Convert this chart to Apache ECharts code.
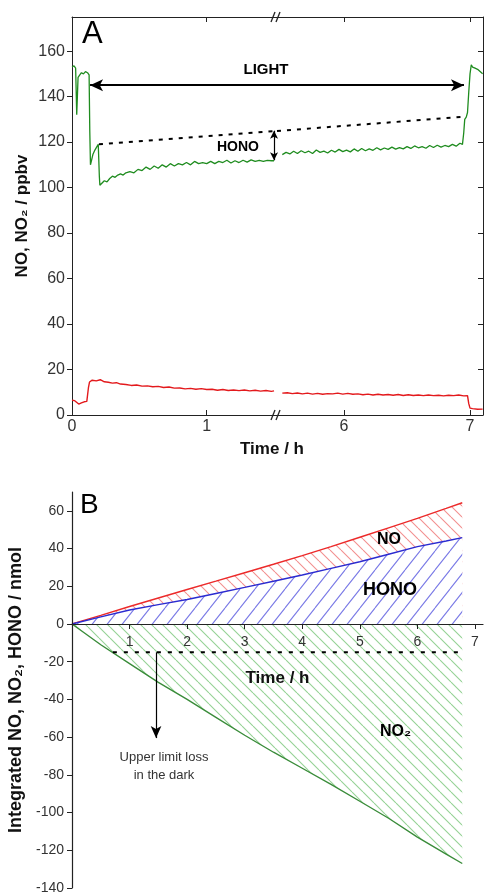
<!DOCTYPE html>
<html><head><meta charset="utf-8">
<script src="https://cdn.jsdelivr.net/npm/echarts@6/dist/echarts.min.js"></script>
<style>html,body{margin:0;padding:0;background:#fff}#c{width:485px;height:893px}</style>
</head><body><div id="c"></div><script>
// ---------- Panel A data (time in h, mixing ratio in ppbv) ----------
const A_no2_t1 = [0,0.015,0.027,0.03,0.035,0.04,0.045,0.055,0.07,0.085,0.1,0.115,0.127,0.132,0.137,0.145,0.155,0.17,0.185,0.195,0.2,0.203,0.207,0.22,0.24,0.26,0.28,0.3,0.32,0.34,0.36,0.38,0.4,0.43,0.46,0.49,0.52,0.55,0.58,0.61,0.64,0.67,0.7,0.73,0.76,0.79,0.82,0.85,0.88,0.91,0.94,0.97,1.0,1.03,1.06,1.09,1.12,1.15,1.18,1.21,1.24,1.27,1.3,1.33,1.36,1.39,1.42,1.45,1.48,1.5];
const A_no2_v1 = [153,153.5,152.5,145,132,140,148.5,149,150.5,150,151,150.5,149.5,125,110,112,114.5,116.5,118,119,119.2,105,101,101.5,103,102.5,104,105,104.5,105.5,106,105.5,106.5,107,106.5,108,107.5,109,108,109.5,108.5,110,109,110.5,109.5,110.5,110,111,110,111.5,110.5,111,110.5,111.5,110.5,111.5,111,112,110.8,111.8,111,112,111.2,112.2,111.5,112,111.5,112,111.8,111.8];
const A_no2_t2 = [5.51,5.54,5.57,5.6,5.63,5.66,5.69,5.72,5.75,5.78,5.81,5.84,5.87,5.9,5.93,5.96,5.99,6.02,6.05,6.08,6.11,6.14,6.17,6.2,6.23,6.26,6.29,6.32,6.35,6.38,6.41,6.44,6.47,6.5,6.53,6.56,6.59,6.62,6.65,6.68,6.71,6.74,6.77,6.8,6.83,6.86,6.89,6.92,6.94,6.95,6.958,6.97,6.98,6.99,7.0,7.01,7.02,7.04,7.06,7.08,7.1];
const A_no2_v2 = [114.5,115.5,114.8,116,115,116.2,115.3,116,115,116.5,115.5,116,115.2,116.4,115.6,116.8,115.8,116.5,115.7,117,116,117.2,116.2,117,116.4,117.5,116.6,117.4,116.8,117.8,116.9,117.6,117,118,117.2,118.3,117.5,118,117.3,118.5,117.6,118.6,117.8,118.5,118,119,118.2,119.5,119,124,130,131,133,142,150,154,153,152.5,152,151,150];
const A_no_t1 = [0,0.02,0.03,0.05,0.07,0.09,0.11,0.118,0.122,0.13,0.15,0.18,0.21,0.24,0.27,0.3,0.33,0.36,0.4,0.44,0.48,0.52,0.56,0.6,0.64,0.68,0.72,0.76,0.8,0.84,0.88,0.92,0.96,1.0,1.04,1.08,1.12,1.16,1.2,1.24,1.28,1.32,1.36,1.4,1.44,1.48,1.5];
const A_no_v1 = [6.5,6.3,5.5,4.8,5.3,5.8,6,6.2,12,14.5,15.3,15,15.5,14.6,14.4,14,14.2,13.6,13.4,13,13.2,12.7,12.8,12.4,12.6,12.1,12.3,11.8,11.9,11.5,11.7,11.3,11.6,11.2,11.3,10.9,11.2,10.8,11,10.7,11,10.6,10.9,10.5,10.8,10.4,10.6];
const A_no_t2 = [5.51,5.55,5.59,5.63,5.67,5.71,5.75,5.79,5.83,5.87,5.91,5.95,5.99,6.03,6.07,6.11,6.15,6.19,6.23,6.27,6.31,6.35,6.39,6.43,6.47,6.51,6.55,6.59,6.63,6.67,6.71,6.75,6.79,6.83,6.87,6.91,6.95,6.98,6.99,7.0,7.02,7.06,7.1];
const A_no_v2 = [9.6,9.8,9.4,9.7,9.3,9.6,9.2,9.5,9.1,9.4,9.3,9.6,9.2,9.5,9.1,9.3,8.9,9.2,8.8,9.1,8.8,9,8.7,9,8.6,8.9,8.6,8.8,8.5,8.8,8.5,8.7,8.4,8.7,8.5,8.8,8.4,8.5,5,3,2.8,2.5,2.6];
const A_dash_t1 = [0.2,1.522], A_dash_v1 = [119,124.9];
const A_dash_t2 = [5.468,6.945], A_dash_v2 = [124.9,131.1];
const A_light = [0.134,6.952,145];      // start, end, level
const A_hono = [1.5,112,125];           // time, low, high
const A_xLeft = [0,1], A_xRight = [6,7];

// ---------- Panel B data (time in h, integrated amount in nmol) ----------
const B_t     = [0,0.5,1,1.5,2,2.5,3,3.5,4,4.5,5,5.5,6,6.5,6.78];
const B_HONO  = [0,3.8,7.4,10.3,13,16.2,19.4,22.7,26,29.5,33,37,41,44,45.8];
const B_NOtop = [0,4.6,9.3,13.8,18.3,22.7,27.2,31.7,36.3,41,46,51,56,61.3,64.3];   // NO + HONO (upper red line)
const B_NO2   = [0,-11,-21,-31,-40,-49.5,-59,-68,-76.5,-85,-94,-103,-113,-122,-127];
const B_dash_t = [0.71,6.78], B_dash_v = [-15,-15];
const B_arrow = [1.46,-15,-60.5];
const B_xTicks = [1,2,3,4,5,6,7];
const B_yTicks = [-140,-120,-100,-80,-60,-40,-20,0,20,40,60];

const zip = (t, v) => t.map((x, i) => [x, v[i]]);
const FONT = "'Liberation Sans', Arial, sans-serif";

function hatch(color, w, h, dir, lw, bg) {
  const c = document.createElement('canvas'); c.width = w; c.height = h;
  const g = c.getContext('2d');
  if (bg) { g.fillStyle = bg; g.fillRect(0, 0, w, h); }
  g.strokeStyle = color; g.lineWidth = lw;
  g.beginPath();
  for (const k of [-w, 0, w]) {
    if (dir === 'back') { g.moveTo(k, 0); g.lineTo(k + w, h); }
    else { g.moveTo(k, h); g.lineTo(k + w, 0); }
  }
  g.stroke();
  return { image: c, repeat: 'repeat' };
}

const AL = 72, AT = 17, AH = 398, BRK = 277, AR = 483;
const BL = 72, BT = 492, BW = 411, BH = 396;
const BYMIN = -140, BYMAX = 70;
const B_zeroOffset = -BH * (0 - BYMIN) / (BYMAX - BYMIN);

const chart = echarts.init(document.getElementById('c'), null, { renderer: 'canvas' });
const axLine = { onZero: false, lineStyle: { color: '#222', width: 1 } };
const lbl = (o) => Object.assign({ color: '#333', fontFamily: FONT }, o);

const option = {
  animation: false,
  textStyle: { fontFamily: FONT },
  grid: [
    { left: AL, top: AT, width: BRK - AL, height: AH, outerBoundsMode: 'none' },
    { left: BRK, top: AT, width: AR - BRK, height: AH, outerBoundsMode: 'none' },
    { left: BL, top: BT, width: BW, height: BH, outerBoundsMode: 'none' }
  ],
  xAxis: [
    { type: 'value', gridIndex: 0, position: 'bottom', min: 0, max: 1.522, axisLine: axLine, splitLine: { show: false },
      axisTick: { inside: true, length: 5, customValues: [1], lineStyle: { color: '#222' } },
      axisLabel: lbl({ customValues: A_xLeft, fontSize: 16, margin: 4 }) },
    { type: 'value', gridIndex: 0, position: 'top', min: 0, max: 1.522, axisLine: axLine, splitLine: { show: false },
      axisTick: { inside: true, length: 5, customValues: [1], lineStyle: { color: '#222' } }, axisLabel: { show: false } },
    { type: 'value', gridIndex: 1, position: 'bottom', min: 5.468, max: 7.103, axisLine: axLine, splitLine: { show: false },
      axisTick: { inside: true, length: 5, customValues: A_xRight, lineStyle: { color: '#222' } },
      axisLabel: lbl({ customValues: A_xRight, fontSize: 16, margin: 4 }) },
    { type: 'value', gridIndex: 1, position: 'top', min: 5.468, max: 7.103, axisLine: axLine, splitLine: { show: false },
      axisTick: { inside: true, length: 5, customValues: A_xRight, lineStyle: { color: '#222' } }, axisLabel: { show: false } },
    { type: 'value', gridIndex: 2, position: 'bottom', offset: B_zeroOffset, min: 0, max: 7.14, interval: 1, z: 6,
      axisLine: { onZero: false, lineStyle: { color: '#222', width: 1.2 } }, splitLine: { show: false },
      axisTick: { inside: false, length: 5, customValues: B_xTicks, lineStyle: { color: '#222' } },
      axisLabel: lbl({ customValues: B_xTicks, fontSize: 14, margin: 11 }),
      name: 'Time / h', nameLocation: 'middle', nameGap: 46,
      nameTextStyle: { fontSize: 17, fontWeight: 'bold', color: '#111', fontFamily: FONT } }
  ],
  yAxis: [
    { type: 'value', gridIndex: 0, position: 'left', min: 0, max: 175, interval: 20, axisLine: axLine, splitLine: { show: false },
      axisTick: { inside: false, length: 5, lineStyle: { color: '#222' } },
      axisLabel: lbl({ fontSize: 16, margin: 7, showMaxLabel: false }),
      name: 'NO, NO\u2082 / ppbv', nameLocation: 'middle', nameGap: 41,
      nameTextStyle: { fontSize: 17, fontWeight: 'bold', color: '#111', fontFamily: FONT } },
    { type: 'value', gridIndex: 1, position: 'right', min: 0, max: 175, interval: 20, axisLine: axLine, splitLine: { show: false },
      axisTick: { inside: true, length: 5, lineStyle: { color: '#222' } }, axisLabel: { show: false } },
    { type: 'value', gridIndex: 2, position: 'left', min: BYMIN, max: BYMAX, interval: 20, z: 6,
      axisLine: { onZero: false, lineStyle: { color: '#222', width: 1.2 } }, splitLine: { show: false },
      axisTick: { inside: false, length: 5, customValues: B_yTicks, lineStyle: { color: '#222' } },
      axisLabel: lbl({ fontSize: 14, margin: 8, showMaxLabel: false }),
      name: 'Integrated NO, NO\u2082, HONO / nmol', nameLocation: 'middle', nameGap: 44,
      nameTextStyle: { fontSize: 18, fontWeight: 'bold', color: '#111', fontFamily: FONT } }
  ],
  series: [
    { type: 'line', xAxisIndex: 0, yAxisIndex: 0, data: zip(A_no2_t1, A_no2_v1), symbol: 'none', silent: true,
      lineStyle: { color: '#1f8c1f', width: 1.3 },
      markLine: { silent: true, symbol: ['arrow', 'none'], symbolSize: [9, 13], label: { show: false },
        itemStyle: { color: '#000' }, lineStyle: { color: '#000', width: 1.8, type: 'solid' },
        data: [[{ coord: [A_light[0], A_light[2]] }, { coord: [1.522, A_light[2]] }]] } },
    { type: 'line', xAxisIndex: 0, yAxisIndex: 0, data: zip(A_no_t1, A_no_v1), symbol: 'none', silent: true,
      lineStyle: { color: '#e3191c', width: 1.4 } },
    { type: 'line', xAxisIndex: 0, yAxisIndex: 0, data: zip(A_dash_t1, A_dash_v1), symbol: 'none', silent: true,
      lineStyle: { color: '#000', width: 2, type: [4, 6] },
      markLine: { silent: true, symbol: ['arrow', 'arrow'], symbolSize: [6, 8], label: { show: false },
        itemStyle: { color: '#000' }, lineStyle: { color: '#000', width: 1.2, type: 'solid' },
        data: [[{ coord: [A_hono[0], A_hono[1]] }, { coord: [A_hono[0], A_hono[2]] }]] } },
    { type: 'line', xAxisIndex: 2, yAxisIndex: 1, data: zip(A_no2_t2, A_no2_v2), symbol: 'none', silent: true,
      lineStyle: { color: '#1f8c1f', width: 1.3 },
      markLine: { silent: true, symbol: ['none', 'arrow'], symbolSize: [9, 13], label: { show: false },
        itemStyle: { color: '#000' }, lineStyle: { color: '#000', width: 1.8, type: 'solid' },
        data: [[{ coord: [5.468, A_light[2]] }, { coord: [A_light[1], A_light[2]] }]] } },
    { type: 'line', xAxisIndex: 2, yAxisIndex: 1, data: zip(A_no_t2, A_no_v2), symbol: 'none', silent: true,
      lineStyle: { color: '#e3191c', width: 1.4 } },
    { type: 'line', xAxisIndex: 2, yAxisIndex: 1, data: zip(A_dash_t2, A_dash_v2), symbol: 'none', silent: true,
      lineStyle: { color: '#000', width: 2, type: [4, 6] } },
    // Panel B
    { type: 'line', xAxisIndex: 4, yAxisIndex: 2, data: zip(B_t, B_NOtop), symbol: 'none', silent: true,
      lineStyle: { color: '#ec2a2a', width: 1.4 },
      areaStyle: { color: hatch('#f29090', 11, 11, 'back', 1.1), opacity: 1 }, z: 2 },
    { type: 'line', xAxisIndex: 4, yAxisIndex: 2, data: zip(B_t, B_HONO), symbol: 'none', silent: true,
      lineStyle: { color: '#2b2bd0', width: 1.4 },
      areaStyle: { color: hatch('#7a7ae6', 15, 19, 'fwd', 1.1, '#ffffff'), opacity: 1 }, z: 3 },
    { type: 'line', xAxisIndex: 4, yAxisIndex: 2, data: zip(B_t, B_NO2), symbol: 'none', silent: true,
      lineStyle: { color: '#3a8c3a', width: 1.4 },
      areaStyle: { color: hatch('#95d295', 11, 11, 'back', 1.1), opacity: 1 }, z: 2 },
    { type: 'line', xAxisIndex: 4, yAxisIndex: 2, data: zip(B_dash_t, B_dash_v), symbol: 'none', silent: true,
      lineStyle: { color: '#000', width: 2, type: [4, 7] }, z: 4,
      markLine: { silent: true, symbol: ['none', 'arrow'], symbolSize: [8, 12], label: { show: false },
        itemStyle: { color: '#000' }, lineStyle: { color: '#000', width: 1.2, type: 'solid' },
        data: [[{ coord: [B_arrow[0], B_arrow[1]] }, { coord: [B_arrow[0], B_arrow[2]] }]] } }
  ],
  graphic: [
    { type: 'text', left: 82, top: 19, style: { text: 'A', font: '31px ' + FONT, fill: '#000' } },
    { type: 'text', left: 80, top: 491, style: { text: 'B', font: '28px ' + FONT, fill: '#000' } },
    { type: 'text', x: 266, y: 70, style: { text: 'LIGHT', font: 'bold 15px ' + FONT, fill: '#000', align: 'center', verticalAlign: 'middle' } },
    { type: 'text', x: 238, y: 147, style: { text: 'HONO', font: 'bold 14px ' + FONT, fill: '#000', align: 'center', verticalAlign: 'middle' } },
    { type: 'text', x: 272, y: 449, style: { text: 'Time / h', font: 'bold 17px ' + FONT, fill: '#111', align: 'center', verticalAlign: 'middle' } },
    { type: 'text', x: 389, y: 540, z: 10, style: { text: 'NO', font: 'bold 16px ' + FONT, fill: '#000', align: 'center', verticalAlign: 'middle' } },
    { type: 'text', x: 390, y: 590, z: 10, style: { text: 'HONO', font: 'bold 18px ' + FONT, fill: '#000', align: 'center', verticalAlign: 'middle' } },
    { type: 'text', x: 380, y: 732, z: 10, style: { text: 'NO\u2082', font: 'bold 16px ' + FONT, fill: '#000', align: 'left', verticalAlign: 'middle' } },
    { type: 'text', x: 164, y: 766, style: { text: 'Upper limit loss\nin the dark', font: '13px ' + FONT, lineHeight: 18, fill: '#333', align: 'center', verticalAlign: 'middle' } },
    { type: 'line', shape: { x1: BRK - 6, y1: AT + 5, x2: BRK - 2, y2: AT - 5 }, style: { stroke: '#222', lineWidth: 1.3 } },
    { type: 'line', shape: { x1: BRK - 1, y1: AT + 5, x2: BRK + 3, y2: AT - 5 }, style: { stroke: '#222', lineWidth: 1.3 } },
    { type: 'line', shape: { x1: BRK - 6, y1: AT + AH + 5, x2: BRK - 2, y2: AT + AH - 5 }, style: { stroke: '#222', lineWidth: 1.3 } },
    { type: 'line', shape: { x1: BRK - 1, y1: AT + AH + 5, x2: BRK + 3, y2: AT + AH - 5 }, style: { stroke: '#222', lineWidth: 1.3 } }
  ]
};
chart.setOption(option);
</script></body></html>
